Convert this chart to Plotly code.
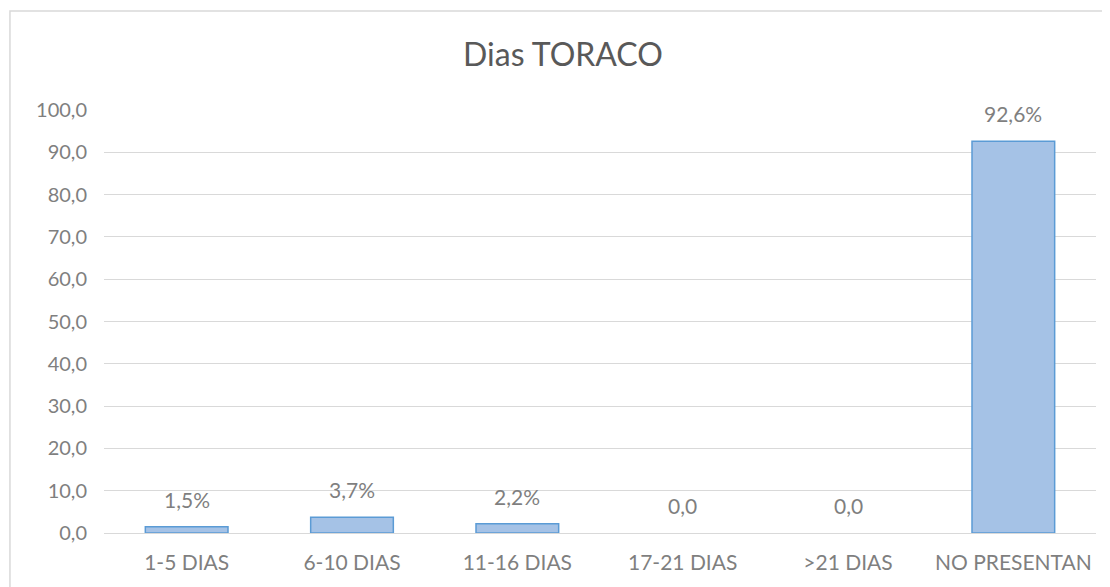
import plotly.graph_objects as go

categories = ["1-5 DIAS", "6-10 DIAS", "11-16 DIAS", "17-21 DIAS", ">21 DIAS", "NO PRESENTAN"]
values = [1.5, 3.7, 2.2, 0.0, 0.0, 92.6]
labels = ["1,5%", "3,7%", "2,2%", "0,0", "0,0", "92,6%"]
y_ticks = [0, 10, 20, 30, 40, 50, 60, 70, 80, 90, 100]

gray = "#7f7f7f"
font_family = "Lato, 'Open Sans', sans-serif"

fig = go.Figure()
fig.add_trace(go.Bar(
    x=categories, y=values,
    marker=dict(color="#a5c2e6",
                line=dict(color="#5b9bd5", width=[1.5 if v > 0 else 0 for v in values])),
    width=0.5, cliponaxis=False, hoverinfo="x+y",
))

annotations = [
    dict(x=c, y=v, text=t, xref="x", yref="y", showarrow=False,
         yanchor="bottom", yshift=13,
         font=dict(size=21, color=gray, family=font_family))
    for c, v, t in zip(categories, values, labels)
]

fig.update_layout(
    width=1110, height=587,
    paper_bgcolor="white", plot_bgcolor="white",
    separators=",.",
    margin=dict(l=96, r=22, t=102, b=62),
    title=dict(text="Dias TORACO", x=0.5, xanchor="center", y=0.92, yanchor="middle",
               font=dict(size=32, color="#595959", family=font_family)),
    font=dict(family=font_family, color=gray, size=20),
    showlegend=False,
    annotations=annotations,
    xaxis=dict(showgrid=False, showline=True, linecolor="#d9d9d9", linewidth=1,
               tickfont=dict(size=21, color=gray), ticks="", ticklabelstandoff=11),
    yaxis=dict(range=[0, 100], tickvals=y_ticks, tickformat=".1f",
               showgrid=True, gridcolor="#d9d9d9", gridwidth=1, zeroline=False,
               showline=False, tickfont=dict(size=20, color=gray), ticks="",
               ticklabelstandoff=16),
    shapes=[dict(type="rect", xref="paper", yref="paper",
                 x0=-0.0948, x1=1.03, y0=-0.2, y1=1.234,
                 line=dict(color="#d9d9d9", width=1.5), fillcolor="rgba(0,0,0,0)")],
)

fig.write_html("out.html")
